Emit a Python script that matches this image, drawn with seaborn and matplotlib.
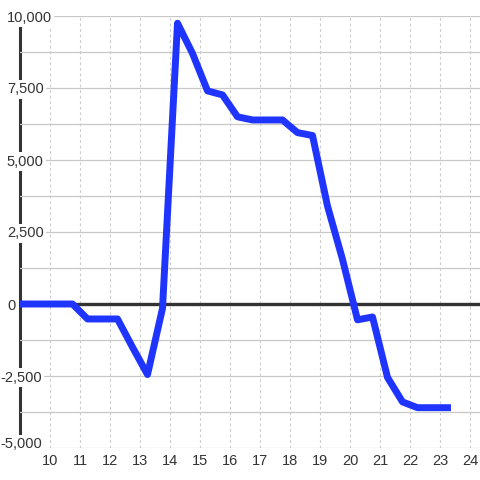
import matplotlib
matplotlib.use("Agg")
import matplotlib.pyplot as plt
import matplotlib.transforms as mtransforms
import seaborn as sns
import pandas as pd
from matplotlib.ticker import MultipleLocator

# hour of day vs value
hours = [9.0, 9.75, 10.25, 10.75, 11.25, 11.75, 12.25, 12.75, 13.25, 13.75,
         14.25, 14.75, 15.25, 15.75, 16.25, 16.75, 17.25, 17.75, 18.25, 18.75,
         19.25, 19.75, 20.25, 20.75, 21.25, 21.75, 22.25, 22.75, 23.25]
values = [0, 0, 0, 0, -520, -520, -520, -1500, -2450, -150,
          9750, 8700, 7400, 7260, 6500, 6390, 6390, 6390, 5950, 5850,
          3400, 1550, -550, -450, -2550, -3400, -3600, -3600, -3600]

xticks = list(range(10, 25))
xticklabels = [str(t) for t in xticks]
yticks = [-5000, -2500, 0, 2500, 5000, 7500, 10000]
yticklabels = ["-5,000", "-2,500", "0", "2,500", "5,000", "7,500", "10,000"]

df = pd.DataFrame({"hour": hours, "value": values})

sns.set_style("white")
plt.rcParams["font.family"] = ["Liberation Sans", "DejaVu Sans"]

fig = plt.figure(figsize=(4.8, 4.8), dpi=100)
ax = fig.add_axes([20 / 480, 32 / 480, 460 / 480, 432 / 480])

# grid
ax.yaxis.set_minor_locator(MultipleLocator(1250))
ax.grid(axis="y", which="both", color="#c8c8c8", linewidth=0.9, linestyle="-")
ax.grid(axis="x", which="major", color="#cccccc", linewidth=0.8, linestyle=(0, (2.5, 2.5)))
ax.set_axisbelow(True)

ax.axhline(0, color="#333333", linewidth=2.4, zorder=1.8)

sns.lineplot(data=df, x="hour", y="value", ax=ax, color="#1f35ff", linewidth=5,
             solid_capstyle="projecting", solid_joinstyle="round", zorder=3)

ax.set_xlim(9, 24.333)
ax.set_ylim(-5000, 10000)
ax.set_xticks(xticks)
ax.set_xticklabels(xticklabels, fontsize=10.5, color="#333333")
ax.set_yticks(yticks)
ax.set_yticklabels(yticklabels, fontsize=10.5, color="#333333", ha="left",
                   bbox=dict(facecolor="white", edgecolor="none", pad=1.5))
ax.tick_params(axis="y", length=0, pad=9.4)
ax.tick_params(axis="x", length=0, pad=4)
ax.tick_params(axis="y", which="minor", length=0)
ax.set_xlabel("")
ax.set_ylabel("")

# negative labels hang a bit further left; bottom label sits on its gridline
for lbl in ax.get_yticklabels():
    if lbl.get_text().startswith("-"):
        shift = mtransforms.ScaledTranslation(-5 / 72, 0, fig.dpi_scale_trans)
        lbl.set_transform(lbl.get_transform() + shift)
    if lbl.get_text() == "-5,000":
        lbl.set_va("baseline")

for side in ["top", "right", "bottom"]:
    ax.spines[side].set_visible(False)
ax.spines["left"].set_color("#333333")
ax.spines["left"].set_linewidth(2.2)
ax.spines["left"].set_zorder(0.4)

fig.savefig("out.png", dpi=100, facecolor="white")
